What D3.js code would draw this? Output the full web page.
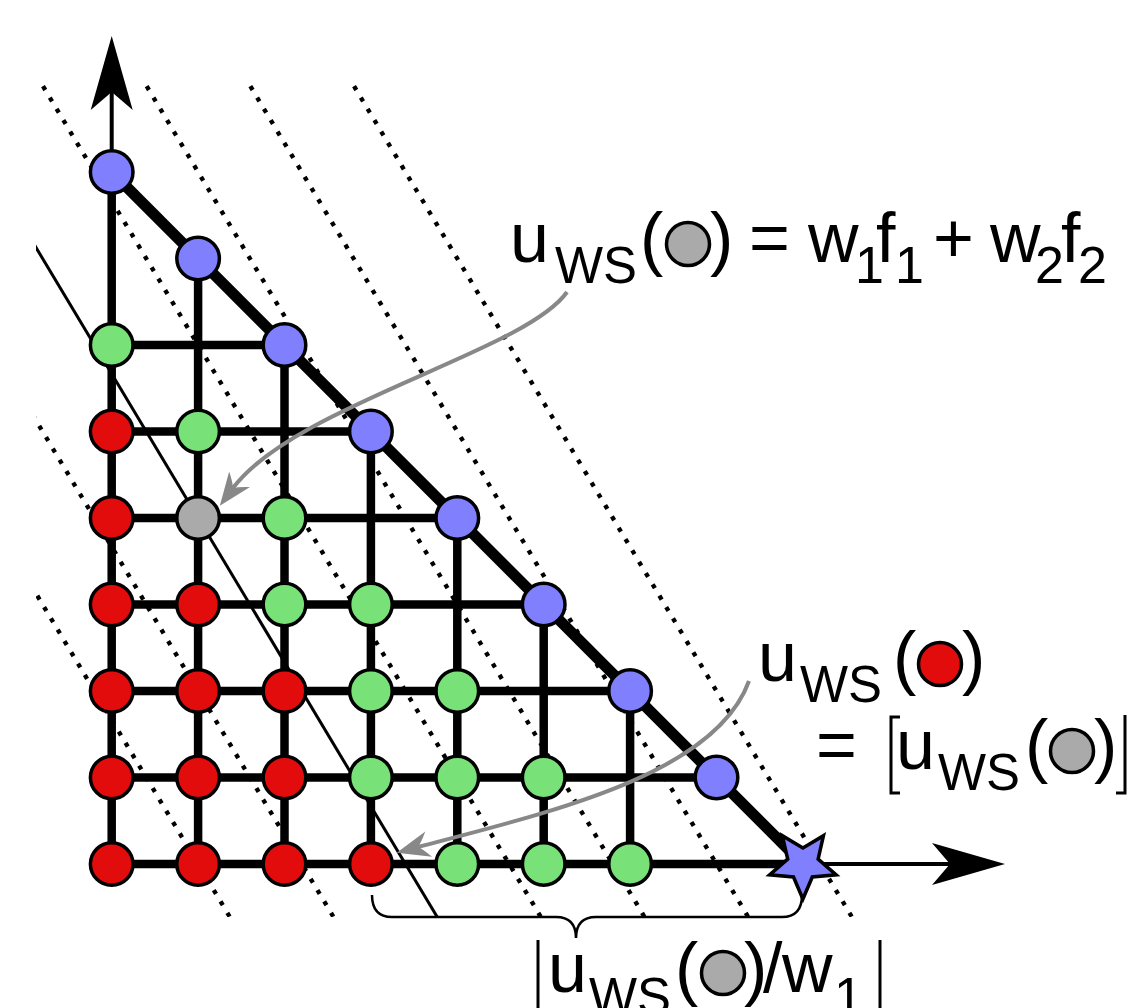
<!DOCTYPE html>
<html>
<head>
<meta charset="utf-8">
<script src="https://cdn.jsdelivr.net/npm/d3@7"></script>
<style>
  html, body { margin: 0; padding: 0; background: #fff; }
  svg { display: block; }
  text { font-family: "Liberation Sans", Arial, sans-serif; fill: #000; }
</style>
</head>
<body>
<svg id="chart" width="1132" height="1008"></svg>
<script>
// class of each lattice point, one list per f2 row (f2 = 0 first), "" = no point
const row0 = ["red", "red", "red", "red", "green", "green", "green", "", "star"];
const row1 = ["red", "red", "red", "green", "green", "green", "", "blue"];
const row2 = ["red", "red", "red", "green", "green", "", "blue"];
const row3 = ["red", "red", "green", "green", "", "blue"];
const row4 = ["red", "gray", "green", "", "blue"];
const row5 = ["red", "green", "", "blue"];
const row6 = ["green", "", "blue"];
const row7 = ["", "blue"];
const row8 = ["blue"];
const rows = [row0, row1, row2, row3, row4, row5, row6, row7, row8];

// rows / columns that carry a thick grid line
const lineRows = [0, 1, 2, 3, 4, 5, 6];
const lineCols = [0, 1, 2, 3, 4, 5, 6];

// weighted sum weights and the iso-utility levels
const w1 = 0.625;
const w2 = 0.375;
const dottedLevels = [0.625, 1.375, 2.875, 3.625, 4.375, 5.125];
const grayLevel = 2.125;

const colors = { red: "#e30c0c", green: "#78e178", blue: "#8080ff", gray: "#aaaaaa", star: "#8080ff" };

const svg = d3.select("#chart");

const x = d3.scaleLinear().domain([0, 8]).range([111.7, 802.9]);
const y = d3.scaleLinear().domain([0, 8]).range([864, 172]);

const points = [];
rows.forEach((r, j) => r.forEach((c, i) => { if (c) points.push({ i, j, c }); }));

const defs = svg.append("defs");
defs.append("clipPath").attr("id", "levelclip")
  .append("rect").attr("x", 36).attr("y", 80).attr("width", 1100).attr("height", 837);
defs.append("marker")
  .attr("id", "garrow")
  .attr("markerUnits", "userSpaceOnUse")
  .attr("viewBox", "-14 -16 40 32")
  .attr("markerWidth", 40).attr("markerHeight", 32)
  .attr("refX", 0).attr("refY", 0)
  .attr("orient", "auto")
  .append("path")
  .attr("d", "M22,0 L-11,-13 Q-4,-3 0,0 Q-4,3 -11,13 Z")
  .attr("fill", "#888");

const levelLine = c => [[(c + w2) / w1, -1], [(c - 10 * w2) / w1, 10]];

const levels = svg.append("g").attr("clip-path", "url(#levelclip)");
levels.selectAll(".dotted")
  .data(dottedLevels)
  .enter().append("line")
  .attr("class", "dotted")
  .attr("x1", d => x(levelLine(d)[0][0]))
  .attr("y1", d => y(levelLine(d)[0][1]))
  .attr("x2", d => x(levelLine(d)[1][0]))
  .attr("y2", d => y(levelLine(d)[1][1]))
  .attr("stroke", "#000")
  .attr("stroke-width", 4.4)
  .attr("stroke-dasharray", "4.4 8.8");

levels.append("line")
  .attr("x1", x(levelLine(grayLevel)[0][0]))
  .attr("y1", y(levelLine(grayLevel)[0][1]))
  .attr("x2", x(levelLine(grayLevel)[1][0]))
  .attr("y2", y(levelLine(grayLevel)[1][1]))
  .attr("stroke", "#000")
  .attr("stroke-width", 3);

// axes
svg.append("line")
  .attr("x1", x(0)).attr("y1", y(8)).attr("x2", x(0)).attr("y2", 92)
  .attr("stroke", "#000").attr("stroke-width", 4);
svg.append("path")
  .attr("d", `M${x(0)},36 L${x(0) + 21},110 L${x(0)},92 L${x(0) - 21},110 Z`)
  .attr("fill", "#000");
svg.append("line")
  .attr("x1", x(8)).attr("y1", y(0)).attr("x2", 950).attr("y2", y(0))
  .attr("stroke", "#000").attr("stroke-width", 4);
svg.append("path")
  .attr("d", `M1005,${y(0)} L932,${y(0) + 21} L950,${y(0)} L932,${y(0) - 21} Z`)
  .attr("fill", "#000");

// grid
const grid = svg.append("g").attr("stroke", "#000").attr("stroke-width", 8.5);
grid.selectAll(".hrow")
  .data(lineRows)
  .enter().append("line")
  .attr("x1", x(0)).attr("x2", j => x(8 - j))
  .attr("y1", j => y(j)).attr("y2", j => y(j));
grid.selectAll(".vcol")
  .data(lineCols)
  .enter().append("line")
  .attr("x1", i => x(i)).attr("x2", i => x(i))
  .attr("y1", y(0)).attr("y2", i => y(8 - i));

svg.append("line")
  .attr("x1", x(0)).attr("y1", y(8)).attr("x2", x(8)).attr("y2", y(0))
  .attr("stroke", "#000").attr("stroke-width", 11);

// lattice points
svg.selectAll(".pt")
  .data(points.filter(d => d.c !== "star"))
  .enter().append("circle")
  .attr("class", "pt")
  .attr("cx", d => x(d.i))
  .attr("cy", d => y(d.j))
  .attr("r", 21.3)
  .attr("fill", d => colors[d.c])
  .attr("stroke", "#000")
  .attr("stroke-width", 3.5);

const starShape = d3.lineRadial()
  .angle((d, k) => Math.PI + k * Math.PI / 5)
  .radius(d => d)
  .curve(d3.curveLinearClosed);
points.filter(d => d.c === "star").forEach(d => {
  svg.append("path")
    .attr("transform", `translate(${x(d.i)},${y(d.j)})`)
    .attr("d", starShape([35, 16, 35, 16, 35, 16, 35, 16, 35, 16]))
    .attr("fill", colors.star)
    .attr("stroke", "#000")
    .attr("stroke-width", 3.5);
});

// gray pointer arrows
svg.append("path")
  .attr("d", "M567,292 C525,352 295,405 233,488")
  .attr("fill", "none").attr("stroke", "#888").attr("stroke-width", 4)
  .attr("marker-end", "url(#garrow)");
svg.append("path")
  .attr("d", "M749,681 C715,775 550,812 418,847")
  .attr("fill", "none").attr("stroke", "#888").attr("stroke-width", 4)
  .attr("marker-end", "url(#garrow)");

// brace under the axis
svg.append("path")
  .attr("d", "M372,895 Q372,917 392,917 L556,917 Q576,917 576,938 Q576,917 596,917 L782,917 Q802,917 802,895")
  .attr("fill", "none").attr("stroke", "#000").attr("stroke-width", 2.5);

// annotation text
const big = 70, small = 52;
function word(px, py, size, str, len) {
  const t = svg.append("text").attr("x", px).attr("y", py).attr("font-size", size).text(str);
  if (len) t.attr("textLength", len).attr("lengthAdjust", "spacingAndGlyphs");
}
function dot(cx, cy, fill) {
  svg.append("circle").attr("cx", cx).attr("cy", cy).attr("r", 21.5)
    .attr("fill", fill).attr("stroke", "#000").attr("stroke-width", 3.5);
}
function bar(d) {
  svg.append("path").attr("d", d).attr("fill", "none").attr("stroke", "#000").attr("stroke-width", 3);
}

// u_WS(gray) = w1 f1 + w2 f2
word(510, 262, big, "u");
word(555, 283, small, "WS", 82);
word(640, 262, big, "(");
dot(688, 244, colors.gray);
word(710, 262, big, ")");
word(749, 262, big, "=");
word(808, 262, big, "w");
word(855, 283, small, "1");
word(876, 262, big, "f");
word(895, 283, small, "1");
word(933, 262, big, "+");
word(990, 262, big, "w");
word(1035, 283, small, "2");
word(1061, 262, big, "f");
word(1078, 283, small, "2");

// u_WS(red) = floor(u_WS(gray))
word(758, 681, big, "u");
word(800, 702, small, "WS", 82);
word(893, 681, big, "(");
dot(940, 664, colors.red);
word(962, 681, big, ")");
word(816, 769, big, "=");
bar("M900,717 L891,717 L891,793 L900,793");
word(896, 769, big, "u");
word(938, 790, small, "WS", 82);
word(1025, 769, big, "(");
dot(1072, 751, colors.gray);
word(1094, 769, big, ")");
bar("M1125,715 L1125,793 L1116,793");

// floor(u_WS(gray) / w1)
bar("M538,940 L538,1020");
word(548, 992, big, "u");
word(589, 1014, small, "WS", 82);
word(675, 992, big, "(");
dot(723, 973, colors.gray);
word(744, 992, big, ")");
word(763, 992, big, "/");
word(782, 992, big, "w");
word(834, 1014, small, "1");
bar("M880,940 L880,1020");
</script>
</body>
</html>
